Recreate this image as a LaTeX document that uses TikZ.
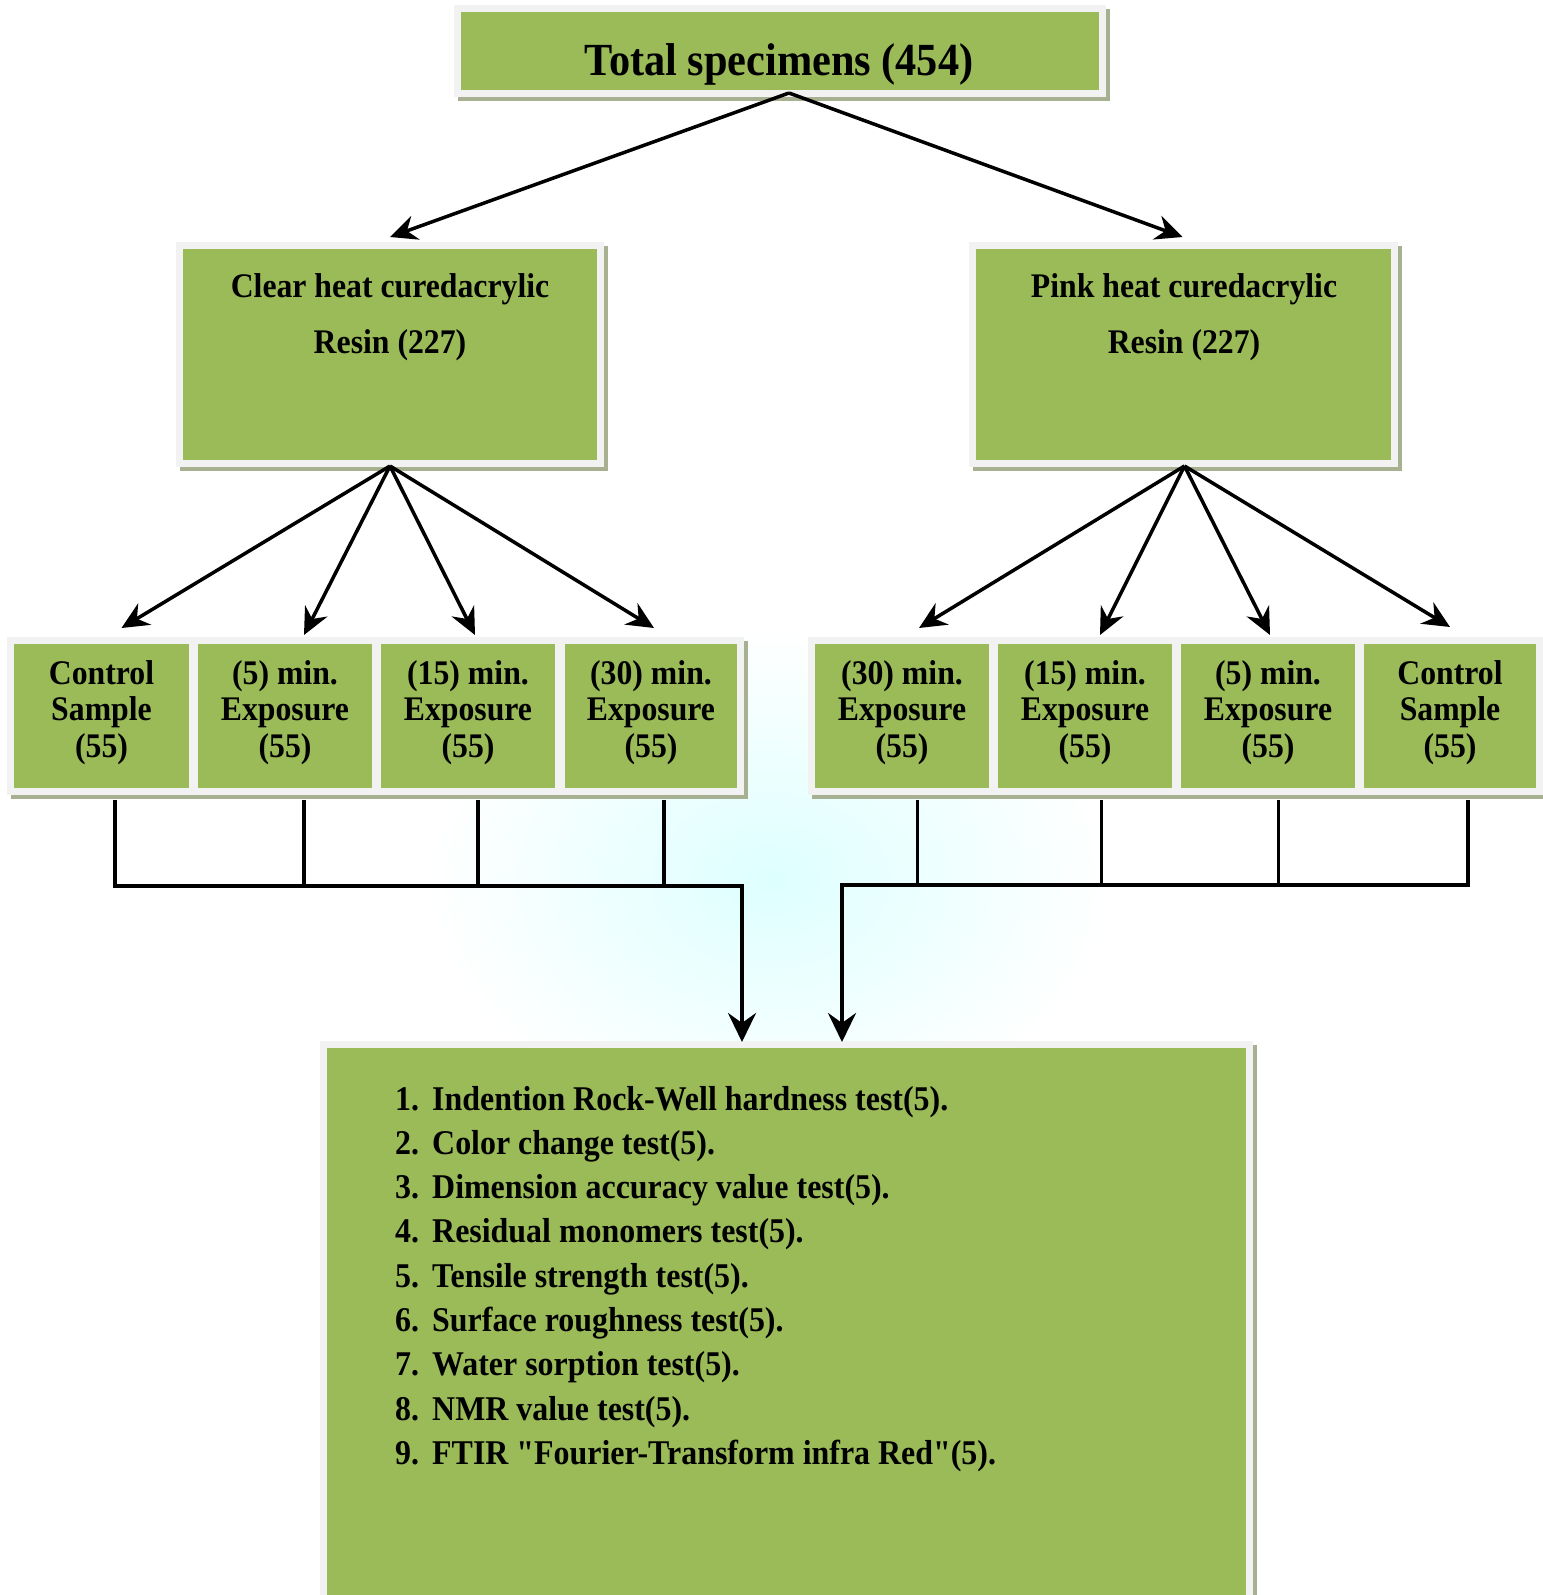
\documentclass[tikz,border=0pt]{standalone}
\usepackage{fontspec}
\setmainfont{Liberation Serif}[FakeStretch=0.92]
\newfontfamily\qfont{Liberation Serif}[FakeStretch=0.92,Ligatures=TeXOff]
\usetikzlibrary{arrows.meta,calc}
\definecolor{boxgreen}{HTML}{9BBB59}
\definecolor{framegray}{HTML}{F2F2F2}
\definecolor{shadowc}{HTML}{A7B090}
\newcommand\dq{{\qfont\bfseries\char34}}
\tikzset{
  greenfill/.style={fill=boxgreen, inner sep=0pt, outer sep=0pt, draw=none},
  arr/.style={line width=3.5pt, -{Stealth[length=27pt,width=25pt,inset=9pt]}},
  downarr/.style={line width=4pt, -{Stealth[length=29pt,width=28pt,inset=10pt]}},
  brk/.style={line width=3.3pt},
  bigtxt/.style={inner sep=0pt, font=\bfseries\fontsize{46}{50}\selectfont, anchor=base},
  midtxt/.style={inner sep=0pt, font=\bfseries\fontsize{34.5}{56}\selectfont, anchor=base},
  smalltxt/.style={inner sep=0pt, align=center, font=\bfseries\fontsize{34.5}{36.7}\selectfont},
  listtxt/.style={inner sep=0pt, anchor=base west, font=\bfseries\fontsize{34.7}{44}\selectfont},
}
\newcommand\gbox[5]{%
  \fill[shadowc] (#2-3,#3-3) rectangle (#4+11,#5+11);
  \fill[framegray] (#2-7,#3-7) rectangle (#4+7,#5+7);
  \node[greenfill, anchor=north west, minimum width={#4-#2}, minimum height={#5-#3}] (#1) at (#2,#3) {};
}
\begin{document}
\begin{tikzpicture}[x=1pt,y=-1pt]
\useasboundingbox (0,0) rectangle (1542,1595);
\fill[white] (0,0) rectangle (1542,1595);
% faint watermark globe
\shade[inner color=cyan!13, outer color=white] (770,880) ellipse (340 and 250);

% boxes
\gbox{top}{461}{12}{1099}{90}
\gbox{clear}{183}{249}{597}{460}
\gbox{pink}{976}{249}{1391}{460}
\gbox{L1}{14}{644}{189}{788}
\gbox{L2}{198}{644}{372}{788}
\gbox{L3}{381}{644}{555}{788}
\gbox{L4}{565}{644}{737}{788}
\gbox{R1}{815}{644}{989}{788}
\gbox{R2}{998}{644}{1172}{788}
\gbox{R3}{1181}{644}{1355}{788}
\gbox{R4}{1364}{644}{1536}{788}
\gbox{list}{327}{1048}{1246}{1600}

% texts
\node[bigtxt] (topT) at (779,75) {Total specimens (454)};
\node[midtxt] (clearT1) at (390,297) {Clear heat curedacrylic};
\node[midtxt] (clearT2) at (390,353) {Resin (227)};
\node[midtxt] (pinkT1) at (1184,297) {Pink heat curedacrylic};
\node[midtxt] (pinkT2) at (1184,353) {Resin (227)};

\node[smalltxt] (L1t) at (101.5,712.5) {Control\\Sample\\(55)};
\node[smalltxt] (L2t) at (285,712.5) {(5) min.\\Exposure\\(55)};
\node[smalltxt] (L3t) at (468,712.5) {(15) min.\\Exposure\\(55)};
\node[smalltxt] (L4t) at (651,712.5) {(30) min.\\Exposure\\(55)};
\node[smalltxt] (R1t) at (902,712.5) {(30) min.\\Exposure\\(55)};
\node[smalltxt] (R2t) at (1085,712.5) {(15) min.\\Exposure\\(55)};
\node[smalltxt] (R3t) at (1268,712.5) {(5) min.\\Exposure\\(55)};
\node[smalltxt] (R4t) at (1450,712.5) {Control\\Sample\\(55)};

\foreach \i/\t in {
  1/{Indention Rock-Well hardness test(5).},
  2/{Color change test(5).},
  3/{Dimension accuracy value test(5).},
  4/{Residual monomers test(5).},
  5/{Tensile strength test(5).},
  6/{Surface roughness test(5).},
  7/{Water sorption test(5).},
  8/{NMR value test(5).},
  9/{FTIR \dq Fourier-Transform infra Red\dq(5).}} {
  \node[listtxt] (num\i) at ({395},{1110+44.3*(\i-1)}) {\i.};
  \node[listtxt] (item\i) at ({432},{1110+44.3*(\i-1)}) {\t};
}

% arrows top -> second level
\coordinate (topS) at ($(top.south)+(9,3)$);
\draw[arr] (topS) -- ([yshift=12pt]clear.north);
\draw[arr] (topS) -- ([xshift=-1pt,yshift=12pt]pink.north);

% clear -> left row
\coordinate (clS) at ($(clear.south)+(0,6)$);
\draw[arr] (clS) -- ([xshift=20pt,yshift=16pt]L1.north);
\draw[arr] (clS) -- ([xshift=19pt,yshift=9pt]L2.north);
\draw[arr] (clS) -- ([xshift=7pt,yshift=9pt]L3.north);
\draw[arr] (clS) -- ([xshift=3pt,yshift=16pt]L4.north);

% pink -> right row
\coordinate (pkS) at ($(pink.south)+(1,6)$);
\draw[arr] (pkS) -- ([xshift=17pt,yshift=16pt]R1.north);
\draw[arr] (pkS) -- ([xshift=15pt,yshift=9pt]R2.north);
\draw[arr] (pkS) -- ([xshift=2pt,yshift=9pt]R3.north);
\draw[arr] (pkS) -- ([xshift=0pt,yshift=17pt]R4.north);

% left bracket
\coordinate (jL) at (742,886);
\draw[brk] ([xshift=13.5pt,yshift=-12pt]L1.south) |- (jL);
\draw[brk] ([xshift=19pt,yshift=-12pt]L2.south) -- ++(0,86);
\draw[brk] ([xshift=10pt,yshift=-12pt]L3.south) -- ++(0,86);
\draw[brk] ([xshift=13pt,yshift=-12pt]L4.south) -- ++(0,86);
\draw[downarr] ([yshift=1.6pt]jL) -- ($(list.north -| jL)+(0,-6)$);

% right bracket
\coordinate (jR) at (842,885);
\draw[brk] ([xshift=18pt,yshift=-12pt]R4.south) |- (jR);
\draw[brk] ([xshift=15.5pt,yshift=-12pt]R1.south) -- ++(0,85);
\draw[brk] ([xshift=16.6pt,yshift=-12pt]R2.south) -- ++(0,85);
\draw[brk] ([xshift=10.6pt,yshift=-12pt]R3.south) -- ++(0,85);
\draw[downarr] ([yshift=1.6pt]jR) -- ($(list.north -| jR)+(0,-6)$);
\end{tikzpicture}
\end{document}
